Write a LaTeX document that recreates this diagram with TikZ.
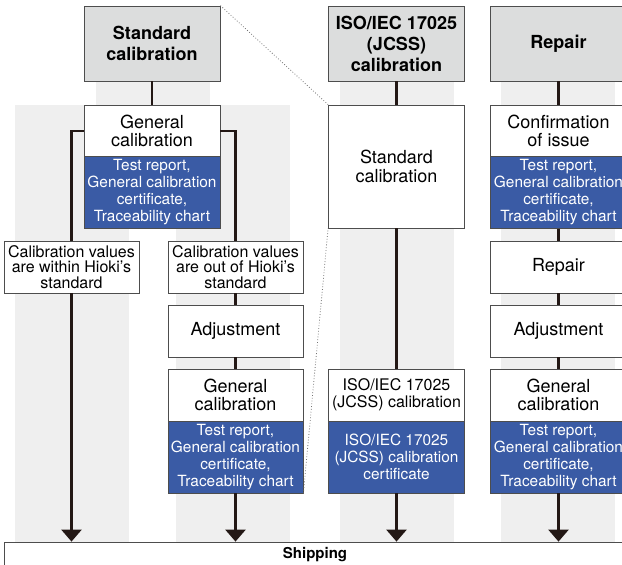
\documentclass[tikz,border=0pt]{standalone}
\usepackage{fontspec}
\setmainfont{TeX Gyre Heros}
\usetikzlibrary{arrows.meta}
\definecolor{headgray}{HTML}{DCDDDD}
\definecolor{bandgray}{HTML}{EFEFEF}
\definecolor{certblue}{HTML}{3A5BA5}
\definecolor{inkline}{HTML}{231815}
\definecolor{edgegray}{HTML}{4D4D4D}
\begin{document}
\begin{tikzpicture}[x=1pt,y=-1pt,
  head/.style={draw=edgegray,line width=0.8pt,fill=headgray,minimum width=136pt,minimum height=75pt,inner sep=0pt,align=center,font=\fontsize{18}{21}\selectfont\bfseries},
  wbox/.style={draw=edgegray,line width=0.8pt,fill=white,minimum width=136pt,minimum height=52pt,inner sep=0pt,align=center,font=\fontsize{18}{18.5}\selectfont},
  cert/.style={draw=edgegray,line width=0.8pt,fill=certblue,text=white,minimum width=136pt,minimum height=72pt,inner sep=0pt,align=center,font=\fontsize{15.4}{17}\selectfont},
  note/.style={wbox,minimum width=135pt,font=\fontsize{16}{15.5}\selectfont},
  link/.style={line width=2.6pt,draw=inkline},
  arr/.style={link,-{Triangle[width=20pt,length=12pt]}},
  guide/.style={draw=black!55,line width=0.8pt,dotted}]
\useasboundingbox (0,0) rectangle (622,565);
% background bands
\fill[bandgray] (96,81) rectangle (210,105);
\fill[bandgray] (15,105) rectangle (129,542);
\fill[bandgray] (176,105) rectangle (290,542);
\fill[bandgray] (340,81) rectangle (454,542);
\fill[bandgray] (501,81) rectangle (615,542);
% headers
\node[head] (std) at (152,43.5) {Standard\\calibration};
\node[head] (jcss) at (396.5,43.5) {ISO/IEC 17025\\(JCSS)\\calibration};
\node[head] (repair) at (558.5,43.5) {Repair};
% standard calibration
\node[wbox] (gen1) at (152,131) {General\\calibration};
\node[cert] (cert1) at (152,192.5) {Test report,\\General calibration\\certificate,\\Traceability chart};
\node[note] (within) at (71.5,267) {Calibration values\\are within Hioki’s\\standard};
\node[note] (out) at (235.5,267) {Calibration values\\are out of Hioki’s\\standard};
\node[wbox,minimum width=135pt] (adj1) at (235.5,331) {Adjustment};
\node[wbox,minimum width=135pt] (gen2) at (235.5,395) {General\\calibration};
\node[cert,minimum width=135pt] (cert2) at (235.5,457) {Test report,\\General calibration\\certificate,\\Traceability chart};
% ISO/IEC 17025 (JCSS) calibration
\node[wbox,minimum height=123pt,font=\fontsize{18}{19}\selectfont] (stdcal) at (396.5,166.5) {Standard\\calibration};
\node[wbox,font=\fontsize{16}{17}\selectfont] (isocal) at (396.5,395) {ISO/IEC 17025\\(JCSS) calibration};
\node[cert] (cert3) at (396.5,457) {ISO/IEC 17025\\(JCSS) calibration\\certificate};
% repair
\node[wbox] (conf) at (558.5,131) {Confirmation\\of issue};
\node[cert] (cert4) at (558.5,192.5) {Test report,\\General calibration\\certificate,\\Traceability chart};
\node[wbox] (rep) at (558.5,267) {Repair};
\node[wbox] (adj2) at (558.5,331) {Adjustment};
\node[wbox] (gen3) at (558.5,395) {General\\calibration};
\node[cert] (cert5) at (558.5,457) {Test report,\\General calibration\\certificate,\\Traceability chart};
% shipping
\node[draw=edgegray,line width=0.8pt,fill=white,minimum width=622pt,minimum height=26pt,inner sep=0pt,font=\fontsize{15}{15}\selectfont\bfseries] (ship) at (315,555) {Shipping};
% connectors
\draw[link] (std.south) -- (gen1.north);
\draw[link] (gen1.west) -| (within.north);
\draw[link] (gen1.east) -| (out.north);
\draw[link] (out.south) -- (adj1.north);
\draw[link] (adj1.south) -- (gen2.north);
\draw[arr] (within.south) -- (within.south |- ship.north);
\draw[arr] (cert2.south) -- (cert2.south |- ship.north);
\draw[link] (jcss.south) -- (stdcal.north);
\draw[link] (stdcal.south) -- (isocal.north);
\draw[arr] (cert3.south) -- (cert3.south |- ship.north);
\draw[link] (repair.south) -- (conf.north);
\draw[link] (cert4.south) -- (rep.north);
\draw[link] (rep.south) -- (adj2.north);
\draw[link] (adj2.south) -- (gen3.north);
\draw[arr] (cert5.south) -- (cert5.south |- ship.north);
% zoom guides
\draw[guide] (std.north east) -- (stdcal.north west);
\draw[guide] (cert2.south east) -- (stdcal.south west);
\end{tikzpicture}
\end{document}
